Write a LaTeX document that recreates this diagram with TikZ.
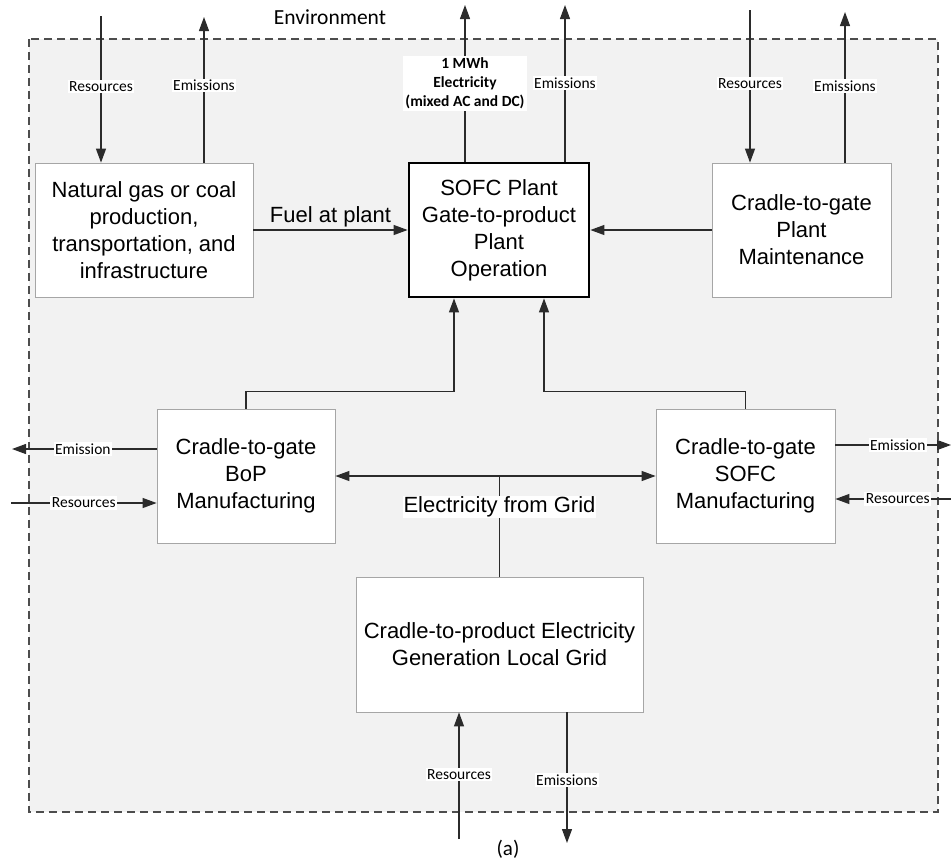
\documentclass[tikz,border=0pt]{standalone}
\usepackage{fontspec}
\setmainfont{Liberation Sans}
\newfontfamily\lblfont{Carlito}
\usetikzlibrary{arrows.meta,positioning}
\definecolor{env-grey}{HTML}{F2F2F2}
\definecolor{env-line}{HTML}{4D4D4D}
\definecolor{box-edge}{HTML}{A6A6A6}
\definecolor{line-dark}{HTML}{2B2B2B}
\tikzset{
  stage/.style={draw=box-edge,fill=white,line width=0.8pt,align=center,inner sep=0pt,
    font=\fontsize{22}{27}\selectfont},
  plantbox/.style={stage,draw=black,line width=2.8pt},
  flow/.style={draw=line-dark,line width=1.2pt,-{Triangle[length=14pt,width=10pt]}},
  flowboth/.style={flow,{Triangle[length=14pt,width=10pt]}-{Triangle[length=14pt,width=10pt]}},
  link/.style={draw=line-dark,line width=1.2pt},
  tag/.style={fill=white,inner sep=1.5pt,font=\lblfont\fontsize{15.5}{18}\selectfont},
  outtag/.style={tag,align=center,inner sep=2pt,font=\lblfont\bfseries\fontsize{15.5}{19}\selectfont},
  bigtag/.style={fill=white,inner sep=1pt,font=\fontsize{22}{27}\selectfont},
}

\begin{document}
\begin{tikzpicture}[x=1pt,y=-1pt]
  \useasboundingbox (0,0) rectangle (951,863);
  % environment boundary
  \draw[env-line,line width=1.1pt,dash pattern=on 8pt off 5pt,fill=env-grey] (29,39) rectangle (938,812);
  \node[font=\lblfont\fontsize{21.5}{24}\selectfont] (env) at (330,17) {Environment};

  % process stages
  \node[stage,minimum width=218pt,minimum height=134pt] (gas) at (144,230)
    {Natural gas or coal\\production,\\transportation, and\\infrastructure};
  \node[plantbox,minimum width=180pt,minimum height=134pt] (plant) at (499,230)
    {SOFC Plant\\Gate-to-product\\Plant\\Operation};
  \node[stage,minimum width=179pt,minimum height=134pt] (maint) at (801.5,230)
    {Cradle-to-gate\\Plant\\Maintenance};
  \node[stage,minimum width=178pt,minimum height=134pt] (bop) at (246,476)
    {Cradle-to-gate\\BoP\\Manufacturing};
  \node[stage,minimum width=179pt,minimum height=134pt] (cell) at (745.5,476)
    {Cradle-to-gate\\SOFC\\Manufacturing};
  \node[stage,minimum width=287pt,minimum height=135pt] (grid) at (499.5,644.5)
    {Cradle-to-product Electricity\\Generation Local Grid};

  % free ends outside the stages
  \coordinate (gasRes) at (101,16);
  \coordinate (gasEm) at (204,17);
  \coordinate (plantOut) at (465,5);
  \coordinate (plantEm) at (565,5);
  \coordinate (maintRes) at (750,10);
  \coordinate (maintEm) at (845,12);
  \coordinate (bopEm) at (12,449);
  \coordinate (bopRes) at (11,503);
  \coordinate (cellEm) at (951,445);
  \coordinate (cellRes) at (951,499);
  \coordinate (gridRes) at (459,839);
  \coordinate (gridEm) at (567,843);

  % exchanges with the environment
  \draw[flow] (gasRes) -- (gasRes |- gas.north) node[tag,pos=0.48] (gasResTag) {Resources};
  \draw[flow] (gasEm |- gas.north) -- (gasEm) node[tag,pos=0.53] (gasEmTag) {Emissions};
  \draw[flow] (plantOut |- plant.north) -- (plantOut)
    node[outtag,pos=0.5] (plantOutTag) {1 MWh\\Electricity\\(mixed AC and DC)};
  \draw[flow] (plantEm |- plant.north) -- (plantEm) node[tag,pos=0.5] (plantEmTag) {Emissions};
  \draw[flow] (maintRes) -- (maintRes |- maint.north) node[tag,pos=0.48] (maintResTag) {Resources};
  \draw[flow] (maintEm |- maint.north) -- (maintEm) node[tag,pos=0.51] (maintEmTag) {Emissions};
  \draw[flow] (bopEm -| bop.west) -- (bopEm) node[tag,pos=0.51] (bopEmTag) {Emission};
  \draw[flow] (bopRes) -- (bopRes -| bop.west) node[tag,pos=0.5] (bopResTag) {Resources};
  \draw[flow] (cellEm -| cell.east) -- (cellEm) node[tag,pos=0.54] (cellEmTag) {Emission};
  \draw[flow] (cellRes) -- (cellRes -| cell.east) node[tag,pos=0.46] (cellResTag) {Resources};
  \draw[flow] (gridRes) -- (gridRes |- grid.south) node[tag,pos=0.51] (gridResTag) {Resources};
  \draw[flow] (gridEm |- grid.south) -- (gridEm) node[tag,pos=0.52] (gridEmTag) {Emissions};

  % flows between stages
  \draw[flow] (gas) -- (plant)
    node[midway,above=1pt,inner sep=1pt,font=\fontsize{22}{27}\selectfont] (fuelTag) {Fuel at plant};
  \draw[flow] (maint) -- (plant);
  \draw[flow] (bop.north) -- ++(0,-17) -| ([xshift=-45pt]plant.south);
  \draw[flow] (cell.north) -- ++(0,-17) -| ([xshift=45pt]plant.south);
  \draw[flowboth] (bop) -- (cell);
  \draw[link] (grid.north) -- (grid.north |- bop.east)
    node[bigtag,pos=0.69] (gridTag) {Electricity from Grid};

  \node[font=\lblfont\fontsize{21}{24}\selectfont] (caption) at (508,849) {(a)};
\end{tikzpicture}
\end{document}
